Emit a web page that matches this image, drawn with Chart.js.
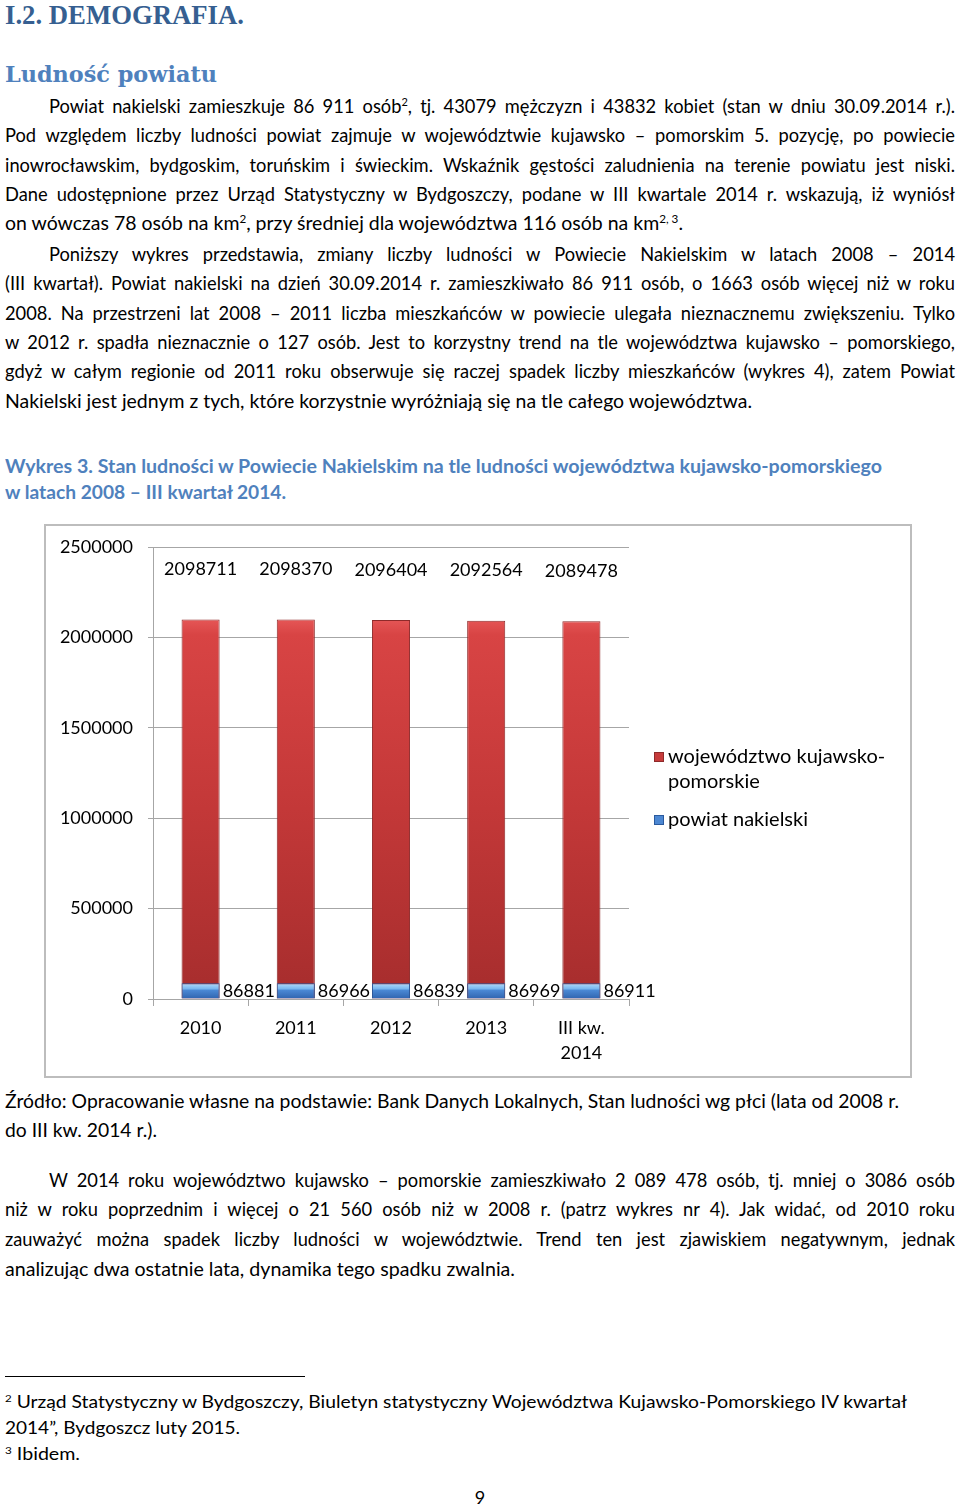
<!DOCTYPE html>
<html lang="pl">
<head>
<meta charset="utf-8">
<script src="https://cdn.jsdelivr.net/npm/chart.js@4.4.1/dist/chart.umd.min.js"></script>
<style>
html,body{margin:0;padding:0;background:#fff;}
body{width:960px;height:1508px;position:relative;overflow:hidden;font-family:Lato,"Open Sans",sans-serif;color:#000;}
.blk{position:absolute;left:5px;width:950px;}
.ln{white-space:nowrap;transform-origin:0 50%;}
.ln.jj{text-align:justify;text-align-last:justify;}
.ind{margin-left:44px;}
sup{font-size:0.6em;line-height:0;vertical-align:0.6em;}
.body{font-size:18.3px;}
#h1{top:-1.4px;font-family:"Liberation Serif",serif;font-weight:bold;font-size:28px;line-height:32px;color:#365F91;}
#h2{top:59px;font-family:"DejaVu Serif",serif;font-weight:bold;font-size:23px;line-height:30px;color:#4F81BD;}
#p1{top:91.8px;line-height:29.4px;}
#p2{top:239.8px;line-height:29.4px;}
#cap{top:453px;line-height:26px;font-weight:bold;color:#4F81BD;font-size:18px;}
#src{top:1086.5px;line-height:29px;}
#p3{top:1165.5px;line-height:29.67px;}
#fn{top:1390px;line-height:25.8px;font-size:16.5px;}
#sep{position:absolute;left:5px;top:1376px;width:300px;height:1px;background:#000;}
#pg{position:absolute;left:0;width:960px;text-align:center;top:1483px;line-height:29.5px;font-size:18px;}
#box{position:absolute;left:44px;top:524px;width:868px;height:554px;box-sizing:border-box;border:2px solid #bdbdbd;}
#cv{position:absolute;left:46px;top:526px;}
</style>
</head>
<body>
<div class="blk" id="h1"><div class="ln" data-w="239"><span>I.2. DEMOGRAFIA.</span></div></div>
<div class="blk" id="h2"><div class="ln" data-w="212"><span>Ludność powiatu</span></div></div>

<div class="blk body" id="p1">
<div class="ln j ind" data-w="906"><span>Powiat nakielski zamieszkuje 86 911 osób<sup>2</sup>, tj. 43079 mężczyzn i 43832 kobiet (stan w dniu 30.09.2014 r.).</span></div>
<div class="ln j" data-w="950"><span>Pod względem liczby ludności powiat zajmuje  w województwie kujawsko – pomorskim 5. pozycję, po powiecie</span></div>
<div class="ln j" data-w="950"><span>inowrocławskim, bydgoskim, toruńskim i świeckim. Wskaźnik gęstości zaludnienia na terenie powiatu jest niski.</span></div>
<div class="ln j" data-w="950"><span>Dane udostępnione przez Urząd Statystyczny w Bydgoszczy, podane  w III kwartale 2014 r. wskazują, iż wyniósł</span></div>
<div class="ln" data-w="678"><span>on wówczas 78 osób na km<sup>2</sup>, przy średniej dla województwa 116 osób na km<sup>2, 3</sup>.</span></div>
</div>

<div class="blk body" id="p2">
<div class="ln j ind" data-w="906"><span>Poniższy wykres przedstawia, zmiany liczby ludności w Powiecie Nakielskim w latach 2008 – 2014</span></div>
<div class="ln j" data-w="950"><span>(III kwartał). Powiat nakielski na dzień 30.09.2014 r. zamieszkiwało 86 911 osób, o 1663 osób więcej niż w roku</span></div>
<div class="ln j" data-w="950"><span>2008. Na przestrzeni lat 2008 – 2011 liczba mieszkańców w powiecie ulegała nieznacznemu zwiększeniu. Tylko</span></div>
<div class="ln j" data-w="950"><span>w 2012 r. spadła nieznacznie o 127 osób. Jest to korzystny trend na tle województwa kujawsko – pomorskiego,</span></div>
<div class="ln j" data-w="950"><span>gdyż w całym regionie od 2011 roku obserwuje się raczej spadek liczby mieszkańców (wykres 4), zatem Powiat</span></div>
<div class="ln" data-w="747"><span>Nakielski jest jednym z tych, które korzystnie wyróżniają się na tle całego województwa.</span></div>
</div>

<div class="blk" id="cap">
<div class="ln" data-w="877"><span>Wykres 3. Stan ludności w Powiecie Nakielskim na tle ludności województwa kujawsko-pomorskiego</span></div>
<div class="ln" data-w="281"><span>w latach 2008 – III kwartał 2014.</span></div>
</div>

<div id="box"></div>
<canvas id="cv" width="864" height="550"></canvas>

<div class="blk body" id="src">
<div class="ln" data-w="894"><span>Źródło: Opracowanie własne na podstawie: Bank Danych Lokalnych, Stan ludności wg płci (lata od 2008 r.</span></div>
<div class="ln" data-w="152"><span>do III kw. 2014 r.).</span></div>
</div>

<div class="blk body" id="p3">
<div class="ln j ind" data-w="906"><span>W 2014 roku województwo kujawsko – pomorskie zamieszkiwało 2 089 478 osób, tj. mniej o 3086 osób</span></div>
<div class="ln j" data-w="950"><span>niż w roku poprzednim i więcej o 21 560 osób niż w 2008 r. (patrz wykres nr 4). Jak widać, od 2010 roku</span></div>
<div class="ln j" data-w="950"><span>zauważyć można spadek liczby ludności w województwie. Trend ten jest zjawiskiem negatywnym, jednak</span></div>
<div class="ln" data-w="510"><span>analizując dwa ostatnie lata, dynamika tego spadku zwalnia.</span></div>
</div>

<div id="sep"></div>
<div class="blk" id="fn">
<div class="ln" data-w="902"><span><sup>2</sup> Urząd Statystyczny w Bydgoszczy, Biuletyn statystyczny Województwa Kujawsko-Pomorskiego IV kwartał</span></div>
<div class="ln" data-w="235"><span>2014”, Bydgoszcz luty 2015.</span></div>
<div class="ln" data-w="75"><span><sup>3</sup> Ibidem.</span></div>
</div>
<div id="pg">9</div>

<script>
// ---- data ----
const categories = ["2010", "2011", "2012", "2013", ["III kw.", "2014"]];
const seriesNames = ["województwo kujawsko-pomorskie", "powiat nakielski"];
const wojewodztwo = [2098711, 2098370, 2096404, 2092564, 2089478];
const powiat = [86881, 86966, 86839, 86969, 86911];
const yTicks = [0, 500000, 1000000, 1500000, 2000000, 2500000];

// ---- text fitting ----
function fit() {
  document.querySelectorAll('.ln').forEach(el => {
    el.style.transform = '';
    el.classList.remove('jj');
    const w = parseFloat(el.dataset.w);
    const sp = el.firstElementChild;
    const nat = sp.getBoundingClientRect().width;
    if (el.classList.contains('j')) {
      el.style.width = w + 'px';
      if (nat > w) el.style.transform = 'scaleX(' + (w / nat) + ')';
      else el.classList.add('jj');
    } else {
      el.style.transform = 'scaleX(' + (w / nat) + ')';
    }
  });
}
fit();
if (document.fonts && document.fonts.ready) document.fonts.ready.then(fit);

// ---- chart ----
const FONT = {family: 'Lato', size: 18};
const LEGEND_SIZE = 20;
const GRID = '#a6a6a6';
const RED_SOLID = '#C63B3B', BLUE_SOLID = '#4C87D2';

function redFill(c) {
  const ch = c.chart, y = ch.scales.y;
  if (!ch.chartArea || !y) return RED_SOLID;
  const t = y.getPixelForValue(Math.max(...wojewodztwo)), b = y.getPixelForValue(0);
  const g = ch.ctx.createLinearGradient(0, t, 0, b);
  g.addColorStop(0, '#E55656');
  g.addColorStop(0.04, '#D84444');
  g.addColorStop(0.5, '#C33838');
  g.addColorStop(1, '#A62D2D');
  return g;
}
function blueFill(c) {
  const ch = c.chart, y = ch.scales.y;
  if (!ch.chartArea || !y) return BLUE_SOLID;
  const t = y.getPixelForValue(Math.max(...powiat)), b = y.getPixelForValue(0);
  const g = ch.ctx.createLinearGradient(0, t, 0, b);
  g.addColorStop(0, '#B3DBF9');
  g.addColorStop(0.35, '#78B8EF');
  g.addColorStop(0.45, '#4A88D4');
  g.addColorStop(1, '#2F63AE');
  return g;
}

function wrapText(ctx, text, maxW) {
  const parts = text.replace(/-/g, '-\u0001').split(/(?<=\s)|\u0001/);
  const lines = []; let cur = '';
  parts.forEach(p => {
    if (ctx.measureText(cur + p).width > maxW && cur) { lines.push(cur.trim()); cur = p; }
    else cur += p;
  });
  if (cur) lines.push(cur.trim());
  return lines;
}

const labelPlugin = {
  id: 'valueLabels',
  afterDatasetsDraw(chart) {
    const ctx = chart.ctx;
    ctx.save();
    ctx.font = FONT.size + 'px ' + FONT.family;
    ctx.fillStyle = '#000';
    ctx.textBaseline = 'middle';
    ctx.textAlign = 'center';
    chart.getDatasetMeta(0).data.forEach((bar, i) => {
      ctx.fillText(String(wojewodztwo[i]), bar.x, bar.y - 50);
    });
    ctx.textAlign = 'left';
    chart.getDatasetMeta(1).data.forEach((bar, i) => {
      ctx.fillText(String(powiat[i]), bar.x + bar.width / 2 + 3, (bar.y + bar.base) / 2);
    });
    ctx.restore();
  },
  afterDraw(chart) {
    const ctx = chart.ctx, a = chart.chartArea;
    ctx.save();
    ctx.font = LEGEND_SIZE + 'px ' + FONT.family;
    ctx.textBaseline = 'middle';
    ctx.textAlign = 'left';
    const sx = a.right + 25, tx = a.right + 39;
    const fills = [[RED_SOLID, '#8E2A2A'], [BLUE_SOLID, '#2A5A9E']];
    let y = a.top + 210;
    seriesNames.forEach((name, i) => {
      const lines = wrapText(ctx, name, 240);
      ctx.fillStyle = fills[i][0];
      ctx.fillRect(sx, y - 5, 10, 10);
      ctx.strokeStyle = fills[i][1];
      ctx.lineWidth = 1;
      ctx.strokeRect(sx + 0.5, y - 4.5, 9, 9);
      ctx.fillStyle = '#000';
      lines.forEach((ln, k) => ctx.fillText(ln, tx, y + k * 25));
      y += lines.length * 25 + 13;
    });
    ctx.restore();
  }
};

new Chart(document.getElementById('cv'), {
  type: 'bar',
  data: {
    labels: categories,
    datasets: [
      {label: seriesNames[0], data: wojewodztwo, backgroundColor: redFill, borderColor: '#8E2A2A', borderWidth: 1, order: 1},
      {label: seriesNames[1], data: powiat, backgroundColor: blueFill, borderColor: '#2A5A9E', borderWidth: 1, order: 0}
    ]
  },
  plugins: [labelPlugin],
  options: {
    responsive: false,
    animation: false,
    datasets: {bar: {grouped: false, barPercentage: 0.4, categoryPercentage: 1}},
    layout: {padding: {left: 0, top: 21, right: 281, bottom: 0}},
    plugins: {legend: {display: false}, tooltip: {enabled: false}},
    scales: {
      x: {
        offset: true,
        grid: {display: true, drawOnChartArea: false, drawTicks: true, tickLength: 7, offset: true, color: GRID},
        border: {display: true, color: GRID},
        ticks: {color: '#000', font: {family: FONT.family, size: FONT.size, lineHeight: 25 / 18}, padding: 10, maxRotation: 0, autoSkip: false},
        afterFit(s) { s.height = 77; }
      },
      y: {
        min: yTicks[0], max: yTicks[yTicks.length - 1],
        afterBuildTicks(s) { s.ticks = yTicks.map(v => ({value: v})); },
        grid: {color: GRID, tickLength: 5, drawTicks: true},
        border: {display: true, color: GRID},
        ticks: {color: '#000', font: {family: FONT.family, size: FONT.size}, padding: 15, callback: v => String(v)},
        afterFit(s) { s.width = 107; s.paddingTop = 0; s.paddingBottom = 0; }
      }
    }
  }
});
</script>
</body>
</html>
